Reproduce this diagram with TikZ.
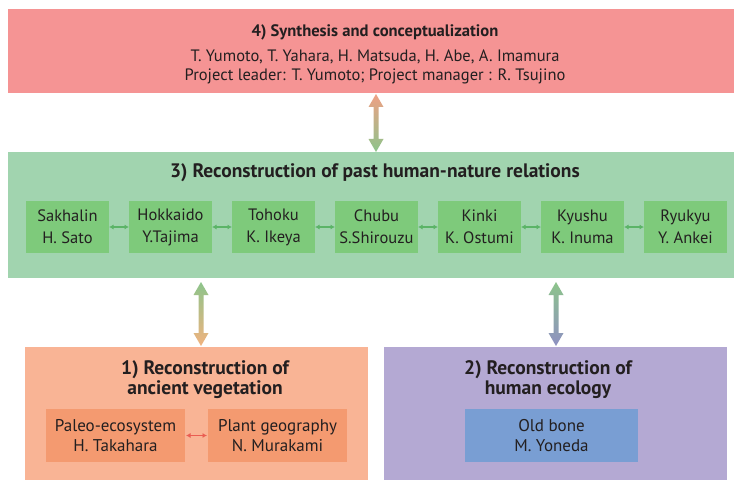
\documentclass[tikz,border=0pt]{standalone}
\usepackage{fontspec}
\setmainfont{PT Sans}
\usetikzlibrary{positioning,arrows.meta,calc}

\definecolor{ink}{HTML}{231F20}
\definecolor{synthred}{HTML}{F59494}
\definecolor{relgreen}{HTML}{A1D4AF}
\definecolor{regiongreen}{HTML}{7ECA7B}
\definecolor{veggorange}{HTML}{F9B495}
\definecolor{plantorange}{HTML}{F49A70}
\definecolor{ecopurple}{HTML}{B4A9D3}
\definecolor{boneblue}{HTML}{799ED3}
\definecolor{linkgreen}{HTML}{5BB467}
\definecolor{linkred}{HTML}{EA5D52}
\definecolor{arrsalmon}{HTML}{EFA085}
\definecolor{arrgreen}{HTML}{8DC48B}
\definecolor{arrorange}{HTML}{F1B37F}
\definecolor{arrpurple}{HTML}{8E90C2}

% thick double arrow with a colour gradient, from #1 (top) to #2 (bottom)
\newcommand{\gradarrow}[4]{%
  \shade[top color=#3, bottom color=#4]
    let \p1=(#1), \p2=(#2) in
    (\x1,\y1) -- (\x1+7.5pt,\y1-13pt) -- (\x1+2.5pt,\y1-13pt) -- (\x1+2.5pt,\y2+13pt)
    -- (\x1+7.5pt,\y2+13pt) -- (\x1,\y2) -- (\x1-7.5pt,\y2+13pt) -- (\x1-2.5pt,\y2+13pt)
    -- (\x1-2.5pt,\y1-13pt) -- (\x1-7.5pt,\y1-13pt) -- cycle;}

\begin{document}
\begin{tikzpicture}[x=1pt, y=-1pt,
  node distance=20pt,
  panel/.style={rectangle, inner sep=0pt, outer sep=0pt, anchor=north west},
  head/.style={font=\fontsize{19.5}{20}\selectfont\bfseries, text=ink, align=center},
  names/.style={font=\fontsize{16.5}{19}\selectfont, text=ink, align=center},
  region/.style={fill=regiongreen, minimum width=83pt, minimum height=52pt,
                 inner sep=0pt, outer sep=0pt, align=center,
                 font=\fontsize{16.5}{22}\selectfont, text=ink},
  subbox/.style={panel, minimum height=53pt, align=center,
                 font=\fontsize{17}{20}\selectfont, text=ink},
  link/.style={{Latex[length=4.5pt,width=5pt]}-{Latex[length=4.5pt,width=5pt]},
               line width=1.2pt, draw=linkgreen}]
\useasboundingbox (0,0) rectangle (735,481);

% panels
\node[panel, fill=synthred, minimum width=726pt, minimum height=84pt] (synth) at (8,9) {};
\node[panel, fill=relgreen, minimum width=726pt, minimum height=126pt] (relations) at (8,152) {};
\node[panel, fill=veggorange, minimum width=343pt, minimum height=133pt] (vegetation) at (25,347) {};
\node[panel, fill=ecopurple, minimum width=343pt, minimum height=133pt] (ecology) at (384,347) {};

% 4) synthesis
\node[head, font=\fontsize{16.6}{20}\selectfont\bfseries] (synthtitle) at (375,32)
  {4) Synthesis and conceptualization};
\node[names] (synthnames) at (375,66.5)
  {T. Yumoto, T. Yahara, H. Matsuda, H. Abe, A. Imamura\\
   Project leader: T. Yumoto; Project manager : R. Tsujino};

% 3) human-nature relations
\node[head] (reltitle) at (375,173) {3) Reconstruction of past human-nature relations};
\node[region] (sakhalin) at (67.5,227) {Sakhalin\\H. Sato};
\node[region, right=of sakhalin] (hokkaido) {Hokkaido\\Y.Tajima};
\node[region, right=of hokkaido] (tohoku) {Tohoku\\K. Ikeya};
\node[region, right=of tohoku] (chubu) {Chubu\\S.Shirouzu};
\node[region, right=of chubu] (kinki) {Kinki\\K. Ostumi};
\node[region, right=of kinki] (kyushu) {Kyushu\\K. Inuma};
\node[region, right=of kyushu] (ryukyu) {Ryukyu\\Y. Ankei};
\foreach \a/\b in {sakhalin/hokkaido, hokkaido/tohoku, tohoku/chubu,
                   chubu/kinki, kinki/kyushu, kyushu/ryukyu}
  \draw[link] (\a) -- (\b);

% 1) vegetation
\node[head] (vegtitle) at (205,380) {1) Reconstruction of\\ancient vegetation};
\node[subbox, fill=plantorange, minimum width=139pt] (paleo) at (46,409)
  {Paleo-ecosystem\\H. Takahara};
\node[subbox, fill=plantorange, minimum width=139pt] (plantgeo) at (208,409)
  {Plant geography\\N. Murakami};
\draw[link, draw=linkred, shorten <=1pt, shorten >=1pt] (paleo) -- (plantgeo);

% 2) human ecology
\node[head] (ecotitle) at (548,380) {2) Reconstruction of\\human ecology};
\node[subbox, fill=boneblue, minimum width=173pt] (oldbone) at (465,409)
  {Old bone\\M. Yoneda};

% links between panels
\coordinate (synthlow) at (376,94);
\coordinate (reltop) at (376,152);
\coordinate (rellowleft) at (201,282);
\coordinate (vegtop) at (201,346);
\coordinate (rellowright) at (556,282);
\coordinate (ecotop) at (556,346);
\gradarrow{synthlow}{reltop}{arrsalmon}{arrgreen}
\gradarrow{rellowleft}{vegtop}{arrgreen}{arrorange}
\gradarrow{rellowright}{ecotop}{arrgreen}{arrpurple}
\end{tikzpicture}
\end{document}
